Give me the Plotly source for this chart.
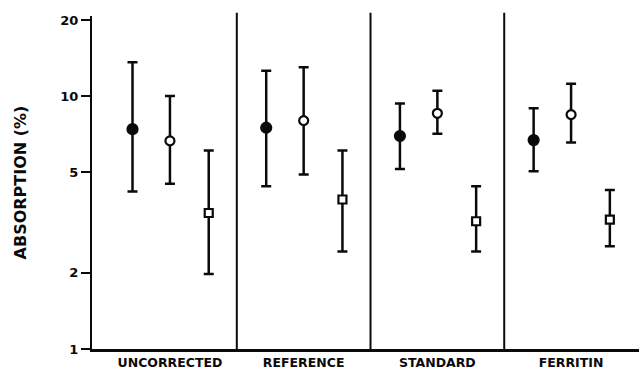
import plotly.graph_objects as go
import numpy as np

categories = ["UNCORRECTED", "REFERENCE", "STANDARD", "FERRITIN"]

filled_mean = [7.4, 7.5, 6.95, 6.7]
filled_hi = [13.6, 12.6, 9.35, 8.95]
filled_lo = [4.2, 4.4, 5.15, 5.05]

open_mean = [6.65, 8.0, 8.55, 8.45]
open_hi = [10.0, 13.0, 10.5, 11.2]
open_lo = [4.5, 4.9, 7.1, 6.55]

square_mean = [3.45, 3.9, 3.2, 3.25]
square_hi = [6.1, 6.1, 4.4, 4.25]
square_lo = [1.98, 2.43, 2.43, 2.55]

y_ticks = [1, 2, 5, 10, 20]

FONT = "DejaVu Sans"
INK = "#0a0a0a"

centers = np.arange(len(categories), dtype=float)

series = [
    (filled_mean, filled_hi, filled_lo, -0.28, "circle", INK, 10),
    (open_mean, open_hi, open_lo, 0.0, "circle", "white", 9),
    (square_mean, square_hi, square_lo, 0.29, "square", "white", 8),
]

fig = go.Figure()
for mean, hi, lo, off, sym, fill, size in series:
    m = np.array(mean)
    fig.add_trace(go.Scatter(
        x=centers + off,
        y=m,
        mode="markers",
        marker=dict(symbol=sym, size=size, color=fill, line=dict(color=INK, width=2.2)),
        error_y=dict(type="data", symmetric=False,
                     array=np.array(hi) - m, arrayminus=m - np.array(lo),
                     color=INK, thickness=2.5, width=5),
        showlegend=False,
        hoverinfo="skip",
    ))

# panel separators
for sep in (centers[:-1] + centers[1:]) / 2:
    fig.add_shape(type="line", xref="x", yref="paper", x0=sep, x1=sep, y0=0, y1=1.01,
                  line=dict(color=INK, width=2))

fig.update_layout(
    width=639, height=370,
    margin=dict(l=92, r=0, t=16, b=21),
    paper_bgcolor="white", plot_bgcolor="white",
    font=dict(family=FONT, color=INK),
)
fig.update_xaxes(
    range=[-0.583, 3.508],
    tickvals=centers, ticktext=[f"<b>{c}</b>" for c in categories],
    tickfont=dict(family=FONT, size=12.5, color=INK),
    ticks="", showgrid=False, zeroline=False,
    showline=True, linecolor=INK, linewidth=2.5,
)
fig.update_yaxes(
    type="log", range=[0, 1.3167],
    tickvals=y_ticks, ticktext=[f"<b>{v}</b>" for v in y_ticks],
    tickfont=dict(family=FONT, size=13, color=INK),
    ticks="outside", ticklen=9, tickwidth=2, tickcolor=INK,
    showgrid=False, zeroline=False,
    showline=True, linecolor=INK, linewidth=2,
    title=dict(text="<b>ABSORPTION (%)</b>", font=dict(family=FONT, size=16, color=INK),
               standoff=30),
)

fig.write_html("out.html")
